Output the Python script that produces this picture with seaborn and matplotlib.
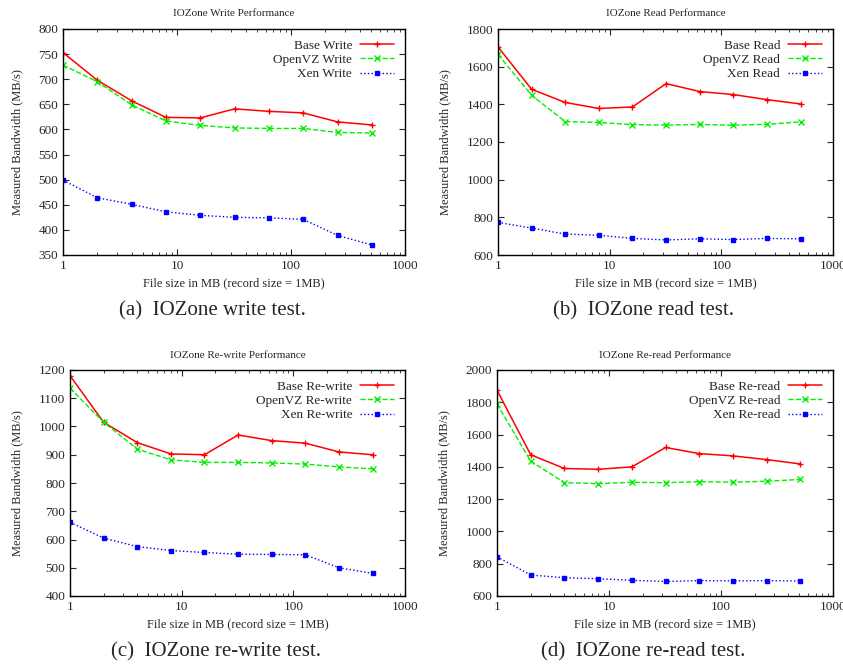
import numpy as np
import pandas as pd
import matplotlib
matplotlib.use('Agg')
import matplotlib.pyplot as plt
import seaborn as sns
from matplotlib.ticker import FixedLocator, FixedFormatter, LogLocator, NullFormatter

sizes = [1, 2, 4, 8, 16, 32, 64, 128, 256, 512]

write_base = [753, 698, 657, 624, 623, 641, 636, 633, 615, 609]
write_ovz = [728, 695, 649, 617, 608, 603, 602, 602, 594, 593]
write_xen = [499, 464, 451, 436, 429, 425, 424, 421, 389, 370]

read_base = [1705, 1480, 1410, 1378, 1386, 1510, 1468, 1452, 1425, 1402]
read_ovz = [1665, 1448, 1308, 1304, 1292, 1290, 1293, 1289, 1294, 1307]
read_xen = [773, 743, 711, 705, 688, 680, 686, 682, 688, 686]

rewrite_base = [1180, 1015, 943, 903, 900, 970, 950, 941, 910, 900]
rewrite_ovz = [1136, 1015, 920, 882, 873, 873, 871, 867, 857, 850]
rewrite_xen = [661, 605, 575, 561, 554, 548, 547, 546, 500, 480]

reread_base = [1875, 1475, 1390, 1385, 1400, 1520, 1482, 1468, 1445, 1418]
reread_ovz = [1790, 1435, 1302, 1296, 1304, 1302, 1308, 1305, 1311, 1322]
reread_xen = [843, 730, 713, 707, 697, 690, 695, 694, 695, 693]

panels = [
    ('IOZone Write Performance', 'Write', (write_base, write_ovz, write_xen),
     (350, 800, 50), '(a)  IOZone write test.'),
    ('IOZone Read Performance', 'Read', (read_base, read_ovz, read_xen),
     (600, 1800, 200), '(b)  IOZone read test.'),
    ('IOZone Re-write Performance', 'Re-write', (rewrite_base, rewrite_ovz, rewrite_xen),
     (400, 1200, 100), '(c)  IOZone re-write test.'),
    ('IOZone Re-read Performance', 'Re-read', (reread_base, reread_ovz, reread_xen),
     (600, 2000, 200), '(d)  IOZone re-read test.'),
]

# axes boxes in pixels (left, top, right, bottom)
boxes = [(63, 29, 405, 255), (498, 29, 833, 255),
         (70, 370, 405, 596), (497, 370, 833, 596)]

styles = [('Base', '#ff0000', '+', '-'),
          ('OpenVZ', '#00f000', 'x', '--'),
          ('Xen', '#0000ff', 's', ':')]

sns.set_style('ticks')
plt.rcParams['font.family'] = ['Liberation Serif', 'DejaVu Serif']

W, H = 843, 665
fig = plt.figure(figsize=(W / 100, H / 100), dpi=100)

for (title, op, series, (ymin, ymax, ystep), caption), (l, t, r, b) in zip(panels, boxes):
    ax = fig.add_axes([l / W, 1 - b / H, (r - l) / W, (b - t) / H])
    for (name, color, marker, ls), vals in zip(styles, series):
        df = pd.DataFrame({'size': sizes, 'bw': vals})
        sns.lineplot(data=df, x='size', y='bw', ax=ax, color=color, marker=marker,
                     linestyle=ls, linewidth=1.1 if ls == '-' else 1.0,
                     markersize=2.6 if marker == 's' else 4,
                     markeredgewidth=1.0, markeredgecolor=color,
                     label=f'{name} {op}')
    ax.set_xscale('log')
    ax.set_xlim(1, 1000)
    ax.set_ylim(ymin, ymax)
    ax.xaxis.set_major_locator(FixedLocator([1, 10, 100, 1000]))
    ax.xaxis.set_major_formatter(FixedFormatter(['1', '10', '100', '1000']))
    ax.xaxis.set_minor_locator(LogLocator(base=10, subs=np.arange(2, 10)))
    ax.xaxis.set_minor_formatter(NullFormatter())
    ax.set_yticks(np.arange(ymin, ymax + 1, ystep))
    ax.tick_params(which='both', direction='in', top=True, right=True, labelsize=9.5)
    ax.tick_params(which='major', length=4)
    ax.tick_params(which='minor', length=2)
    for sp in ax.spines.values():
        sp.set_linewidth(1.0)
        sp.set_color('black')
    ax.set_title(title, fontsize=8, pad=9)
    ax.set_xlabel('File size in MB (record size = 1MB)', fontsize=9, labelpad=4)
    ax.set_ylabel('Measured Bandwidth (MB/s)', fontsize=9, labelpad=11)
    ax.legend(loc='upper right', frameon=False, markerfirst=False, fontsize=9.5,
              handlelength=2.6, handletextpad=0.6, labelspacing=0.15,
              borderaxespad=0.6, borderpad=0.2)
    fig.text((l + r) / 2 / W - 0.026, 1 - (b + 56) / H, caption, ha='center', va='center',
             fontsize=15)

fig.savefig('out.png', dpi=100)
